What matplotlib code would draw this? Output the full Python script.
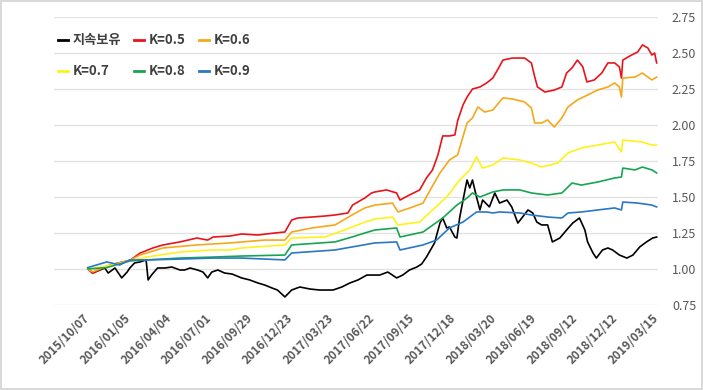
import matplotlib
matplotlib.use("Agg")
import matplotlib.pyplot as plt

plt.rcParams['font.family'] = ['Noto Sans CJK KR', 'DejaVu Sans']

# trading-day index (0 = 2015/10/07, 840 = 2019/03/15) and values
tick_labels = ["2015/10/07", "2016/01/05", "2016/04/04", "2016/07/01", "2016/09/29",
               "2016/12/23", "2017/03/23", "2017/06/22", "2017/09/15", "2017/12/18",
               "2018/03/20", "2018/06/19", "2018/09/12", "2018/12/12", "2019/03/15"]
tick_step = 60

hold_day = [0, 7, 18, 25, 30, 40, 50, 58, 62, 69, 77, 86, 89, 94, 103, 114, 124, 136, 143,
            151, 162, 170, 177, 183, 192, 202, 213, 227, 239, 251, 261, 272, 280, 291, 301,
            313, 328, 342, 362, 375, 387, 399, 412, 424, 431, 443, 456, 465, 475, 486, 493,
            500, 512, 520, 524, 530, 534, 542, 545, 549, 557, 560, 564, 568, 574, 579, 583,
            593, 601, 608, 619, 626, 635, 642, 650, 657, 663, 670, 679, 686, 697, 707, 716,
            726, 734, 738, 746, 751, 760, 768, 775, 785, 796, 805, 815, 825, 834, 840]
hold_val = [1.007, 0.972, 0.993, 1.007, 0.972, 1.007, 0.938, 0.979, 1.007, 1.042, 1.049,
            1.063, 0.924, 0.958, 1.007, 1.007, 1.014, 0.993, 0.993, 1.007, 0.993, 0.979,
            0.938, 0.979, 0.993, 0.972, 0.965, 0.938, 0.924, 0.903, 0.889, 0.868, 0.854,
            0.806, 0.854, 0.875, 0.861, 0.854, 0.854, 0.875, 0.903, 0.924, 0.958, 0.958,
            0.958, 0.979, 0.938, 0.958, 0.993, 1.014, 1.035, 1.083, 1.181, 1.319, 1.354,
            1.285, 1.292, 1.222, 1.215, 1.354, 1.549, 1.618, 1.563, 1.618, 1.500, 1.410,
            1.479, 1.431, 1.528, 1.458, 1.479, 1.431, 1.319, 1.361, 1.410, 1.389, 1.326,
            1.306, 1.306, 1.188, 1.215, 1.271, 1.319, 1.354, 1.271, 1.188, 1.111, 1.076,
            1.132, 1.146, 1.132, 1.097, 1.076, 1.097, 1.153, 1.188, 1.215, 1.222]

k05_day = [0, 7, 28, 43, 62, 77, 96, 111, 136, 161, 177, 185, 210, 227, 251, 276, 291, 301,
           310, 331, 350, 365, 384, 391, 409, 419, 424, 441, 456, 461, 475, 490, 500, 509,
           517, 524, 534, 542, 546, 554, 560, 568, 579, 589, 598, 605, 613, 627, 645, 655,
           660, 664, 675, 689, 700, 707, 715, 723, 731, 737, 748, 759, 768, 778, 785, 788,
           790, 803, 812, 819, 827, 833, 837, 840]
k05_val = [1.00, 0.97, 1.02, 1.04, 1.06, 1.11, 1.146, 1.167, 1.188, 1.215, 1.201, 1.222,
           1.229, 1.243, 1.236, 1.250, 1.257, 1.340, 1.354, 1.361, 1.368, 1.375, 1.389,
           1.444, 1.493, 1.528, 1.535, 1.549, 1.528, 1.479, 1.514, 1.549, 1.632, 1.688,
           1.792, 1.924, 1.924, 1.931, 2.028, 2.139, 2.194, 2.250, 2.264, 2.292, 2.326,
           2.382, 2.451, 2.465, 2.465, 2.431, 2.333, 2.264, 2.229, 2.243, 2.264, 2.361,
           2.396, 2.451, 2.403, 2.299, 2.313, 2.361, 2.431, 2.431, 2.403, 2.326, 2.451,
           2.486, 2.507, 2.556, 2.535, 2.486, 2.500, 2.431]

k06_day = [0, 7, 28, 43, 62, 77, 111, 161, 210, 261, 291, 301, 331, 365, 390, 409, 424, 450,
           458, 480, 495, 508, 520, 534, 546, 560, 568, 576, 586, 598, 613, 627, 645, 655,
           660, 670, 679, 689, 700, 709, 723, 738, 753, 768, 778, 785, 788, 790, 808, 819,
           833, 840]
k06_val = [1.00, 0.98, 1.02, 1.035, 1.06, 1.097, 1.146, 1.167, 1.181, 1.201, 1.201, 1.257,
           1.285, 1.306, 1.375, 1.424, 1.444, 1.458, 1.396, 1.431, 1.458, 1.569, 1.667,
           1.757, 1.792, 2.014, 2.049, 2.125, 2.090, 2.104, 2.188, 2.181, 2.160, 2.118,
           2.014, 2.014, 2.035, 1.986, 2.049, 2.125, 2.174, 2.208, 2.243, 2.264, 2.292,
           2.264, 2.194, 2.326, 2.333, 2.361, 2.313, 2.333]

k07_day = [0, 28, 62, 87, 136, 185, 210, 227, 291, 301, 350, 379, 409, 424, 450, 458, 490,
           509, 530, 549, 564, 574, 583, 598, 613, 638, 655, 670, 694, 709, 729, 753, 778,
           788, 790, 818, 833, 840]
k07_val = [1.00, 1.02, 1.056, 1.083, 1.118, 1.132, 1.132, 1.146, 1.167, 1.215, 1.222, 1.271,
           1.326, 1.347, 1.361, 1.306, 1.326, 1.410, 1.500, 1.618, 1.688, 1.778, 1.701,
           1.722, 1.771, 1.757, 1.736, 1.708, 1.736, 1.806, 1.840, 1.861, 1.882, 1.813,
           1.896, 1.882, 1.861, 1.861]

k08_day = [0, 28, 62, 87, 136, 185, 227, 291, 301, 365, 390, 409, 424, 456, 461, 495, 524,
           545, 560, 568, 579, 598, 613, 638, 655, 679, 700, 715, 729, 753, 778, 788, 790,
           808, 819, 833, 840]
k08_val = [1.00, 1.01, 1.056, 1.063, 1.076, 1.083, 1.090, 1.097, 1.167, 1.188, 1.222, 1.250,
           1.271, 1.285, 1.222, 1.257, 1.354, 1.444, 1.493, 1.528, 1.500, 1.535, 1.549,
           1.549, 1.528, 1.514, 1.528, 1.597, 1.583, 1.604, 1.632, 1.639, 1.701, 1.688,
           1.708, 1.688, 1.667]

k09_day = [0, 28, 47, 62, 87, 136, 185, 210, 227, 291, 301, 365, 390, 424, 456, 461, 495,
           515, 534, 554, 574, 589, 598, 608, 638, 655, 679, 700, 709, 729, 753, 778, 788,
           790, 812, 833, 840]
k09_val = [1.01, 1.049, 1.028, 1.063, 1.063, 1.069, 1.076, 1.076, 1.076, 1.063, 1.111, 1.132,
           1.153, 1.181, 1.188, 1.132, 1.167, 1.201, 1.285, 1.326, 1.396, 1.396, 1.389,
           1.396, 1.389, 1.375, 1.361, 1.354, 1.389, 1.396, 1.410, 1.424, 1.410, 1.465,
           1.458, 1.444, 1.431]

series = [
    ("지속보유", hold_day, hold_val, "#000000"),
    ("K=0.5", k05_day, k05_val, "#E8141C"),
    ("K=0.6", k06_day, k06_val, "#F5A81C"),
    ("K=0.7", k07_day, k07_val, "#FFF21A"),
    ("K=0.8", k08_day, k08_val, "#16A651"),
    ("K=0.9", k09_day, k09_val, "#2A77C6"),
]

fig = plt.figure(figsize=(7.03, 3.90), dpi=100, edgecolor="#d9d9d9", linewidth=1.5)
ax = fig.add_axes([54 / 703, 1 - 305 / 390, 604 / 703, 288 / 390])

handles = {}
for name, d, v, c in series:
    (ln,) = ax.plot(d, v, color=c, lw=1.2, label=name, zorder=3)
    handles[name] = ln

ax.set_ylim(0.75, 2.75)
ax.set_xlim(-50, 842)
ax.set_yticks([0.75, 1.00, 1.25, 1.50, 1.75, 2.00, 2.25, 2.50, 2.75])
ax.set_yticklabels(["0.75", "1.00", "1.25", "1.50", "1.75", "2.00", "2.25", "2.50", "2.75"])
ax.yaxis.tick_right()
ax.tick_params(axis="y", length=0, pad=10, labelsize=9, labelcolor="#595959")
ax.grid(axis="y", color="#e3e3e3", lw=1)
ax.set_axisbelow(True)

ax.set_xticks([i * tick_step for i in range(len(tick_labels))])
ax.set_xticklabels(tick_labels, rotation=45, ha="right", va="center",
                   rotation_mode="anchor", fontsize=8.5, color="#595959",
                   fontweight="bold")
ax.tick_params(axis="x", length=0, pad=8)

for s in ax.spines.values():
    s.set_visible(False)

order = ["지속보유", "K=0.7", "K=0.5", "K=0.8", "K=0.6", "K=0.9"]
leg = ax.legend([handles[n] for n in order], order, ncol=3, frameon=False,
                loc="upper left", bbox_to_anchor=(53 / 703, 1 - 28 / 390),
                bbox_transform=fig.transFigure, handlelength=0.75, handletextpad=0.35,
                columnspacing=1.0, labelspacing=1.3, borderaxespad=0,
                prop={"size": 9.5, "weight": "bold"})
for t in leg.get_texts():
    t.set_color("#404040")
for h in leg.legend_handles:
    h.set_linewidth(2)

fig.savefig("out.png", dpi=100, facecolor="white", edgecolor=fig.get_edgecolor())
